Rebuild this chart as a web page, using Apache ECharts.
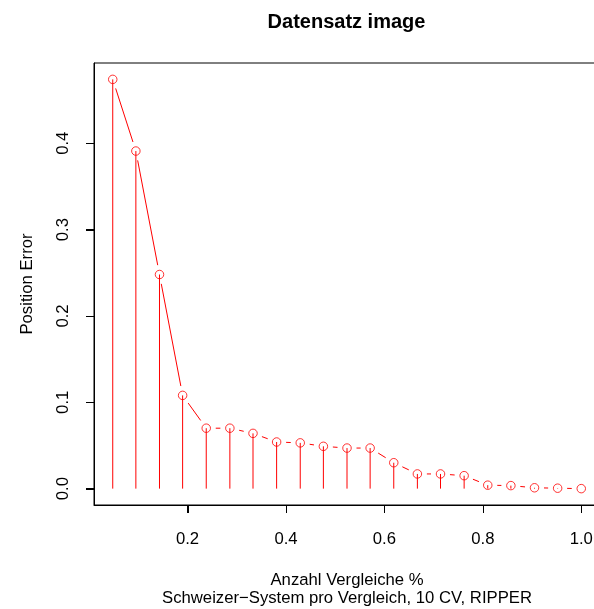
<!DOCTYPE html>
<html><head><meta charset="utf-8">
<script src="https://cdn.jsdelivr.net/npm/echarts@6/dist/echarts.min.js"></script>
<style>html,body{margin:0;padding:0;background:#fff}#c{width:594px;height:609px}</style>
</head><body><div id="c"></div>
<script>
const titleText = 'Datensatz image';
const xName = 'Anzahl Vergleiche %';
const subName = 'Schweizer\u2212System pro Vergleich, 10 CV, RIPPER';
const yName = 'Position Error';
const xValues = [0.048, 0.095, 0.143, 0.190, 0.238, 0.286, 0.333, 0.381, 0.429, 0.476, 0.524,
                 0.571, 0.619, 0.667, 0.714, 0.762, 0.810, 0.857, 0.905, 0.952, 1.000];
const errValues = [0.474, 0.391, 0.248, 0.108, 0.070, 0.070, 0.064, 0.054, 0.053, 0.049, 0.047,
                   0.047, 0.030, 0.017, 0.017, 0.015, 0.004, 0.0035, 0.001, 0.0005, 0.0];
const xTicks = [0.2, 0.4, 0.6, 0.8, 1.0];
const yTicks = [0.0, 0.1, 0.2, 0.3, 0.4];

function rRange(a) {
  const lo = Math.min(...a), hi = Math.max(...a), d = (hi - lo) * 0.04;
  return [lo - d, hi + d];
}
const xr = rRange(xValues), yr = rRange(errValues);
const FONT = '"Liberation Sans", Arial, Helvetica, sans-serif';
const RED = '#ff0000';
const TICK = 8;

const points = xValues.map((x, i) => [x, errValues[i]]);
const segs = [];
for (let i = 0; i < points.length - 1; i++) segs.push([points[i][0], points[i][1], points[i + 1][0], points[i + 1][1]]);

const chart = echarts.init(document.getElementById('c'), null, {renderer: 'canvas'});
chart.setOption({
  animation: false,
  backgroundColor: '#fff',
  title: {
    text: titleText, left: 346.5, top: 12, textAlign: 'center', padding: 0,
    textStyle: {fontFamily: FONT, fontSize: 20, fontWeight: 'bold', color: '#000'}
  },
  grid: {left: 94, top: 63, width: 506, height: 442, show: true, borderColor: '#000', borderWidth: 1,
    backgroundColor: 'transparent', containLabel: false, outerBoundsMode: 'none'},
  xAxis: {
    type: 'value', min: xr[0], max: xr[1],
    axisLine: {show: true, onZero: false, lineStyle: {color: '#000', width: 1}}, splitLine: {show: false},
    axisTick: {show: true, inside: false, length: TICK, customValues: xTicks, lineStyle: {color: '#000', width: 1}},
    axisLabel: {show: true, customValues: xTicks, margin: 26, formatter: v => v.toFixed(1),
      fontFamily: FONT, fontSize: 16.7, color: '#000'},
    name: xName + '\n' + subName, nameLocation: 'middle', nameGap: 66,
    nameTextStyle: {fontFamily: FONT, fontSize: 16.7, color: '#000', lineHeight: 18}
  },
  yAxis: {
    type: 'value', min: yr[0], max: yr[1],
    axisLine: {show: true, onZero: false, lineStyle: {color: '#000', width: 1}}, splitLine: {show: false},
    axisTick: {show: true, inside: false, length: TICK, customValues: yTicks, lineStyle: {color: '#000', width: 1}},
    axisLabel: {show: true, customValues: yTicks, margin: 22, rotate: 90, formatter: v => v.toFixed(1),
      fontFamily: FONT, fontSize: 16.7, color: '#000'},
    name: yName, nameLocation: 'middle', nameGap: 58,
    nameTextStyle: {fontFamily: FONT, fontSize: 16.7, color: '#000'}
  },
  series: [
    {
      type: 'custom', data: points, encode: {x: 0, y: 1}, z: 2,
      renderItem(params, api) {
        const top = api.coord([api.value(0), api.value(1)]);
        const base = api.coord([api.value(0), 0]);
        return {type: 'line', shape: {x1: base[0], y1: base[1], x2: top[0], y2: top[1]},
          style: {stroke: RED, lineWidth: 1}};
      }
    },
    {
      type: 'custom', data: segs, encode: {x: [0, 2], y: [1, 3]}, z: 2,
      renderItem(params, api) {
        const p1 = api.coord([api.value(0), api.value(1)]);
        const p2 = api.coord([api.value(2), api.value(3)]);
        const dx = p2[0] - p1[0], dy = p2[1] - p1[1], L = Math.hypot(dx, dy);
        const g = 9.5;
        if (L <= 2 * g) return null;
        const ux = dx / L, uy = dy / L;
        return {type: 'line', shape: {x1: p1[0] + ux * g, y1: p1[1] + uy * g, x2: p2[0] - ux * g, y2: p2[1] - uy * g},
          style: {stroke: RED, lineWidth: 1}};
      }
    },
    {
      type: 'scatter', data: points, symbol: 'circle', symbolSize: 8.5, z: 3,
      itemStyle: {color: 'rgba(0,0,0,0)', borderColor: RED, borderWidth: 1}
    }
  ]
});

// extra tick marks, placed through the chart's own scales, as filled rects
const tickEls = [];
xTicks.forEach(v => {
  const p = chart.convertToPixel({xAxisIndex: 0, yAxisIndex: 0}, [v, yr[0]]);
  if (p && isFinite(p[0]) && isFinite(p[1])) {
    tickEls.push({type: 'rect', silent: true, z: 100, zlevel: 0,
      shape: {x: Math.round(p[0]), y: Math.round(p[1]), width: 1, height: TICK}, style: {fill: '#000'}});
  }
});
yTicks.forEach(v => {
  const p = chart.convertToPixel({xAxisIndex: 0, yAxisIndex: 0}, [xr[0], v]);
  if (p && isFinite(p[0]) && isFinite(p[1])) {
    tickEls.push({type: 'rect', silent: true, z: 100, zlevel: 0,
      shape: {x: Math.round(p[0]) - TICK, y: Math.round(p[1]), width: TICK, height: 1}, style: {fill: '#000'}});
  }
});
chart.setOption({graphic: {elements: tickEls}});
</script></body></html>
